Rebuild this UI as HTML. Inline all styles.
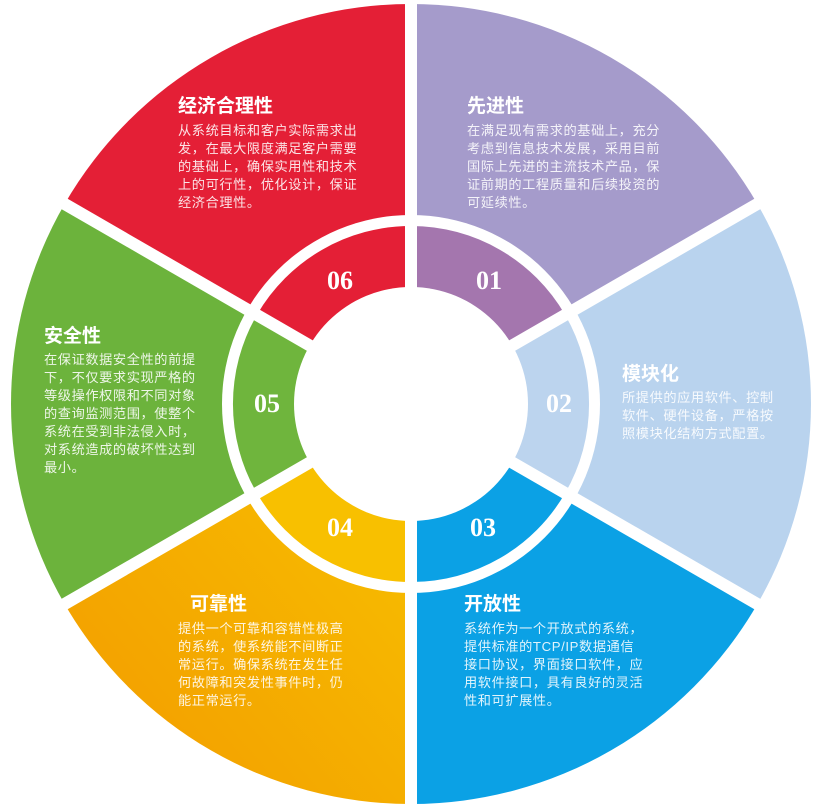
<!DOCTYPE html>
<html><head><meta charset="utf-8"><style>
html,body{margin:0;padding:0;background:#fff;}
svg{display:block;}
.t{font-family:"Liberation Sans","Noto Sans CJK SC",sans-serif;font-weight:bold;font-size:19px;fill:#fff;}
.b{font-family:"Liberation Sans","Noto Sans CJK SC",sans-serif;font-size:13.2px;fill:#fff;fill-opacity:0.88;letter-spacing:0.6px;}
.n{font-family:"Liberation Serif","DejaVu Serif",serif;font-weight:bold;font-size:26px;fill:#fff;text-anchor:middle;}
</style></head><body>
<svg width="823" height="808" viewBox="0 0 823 808" xmlns="http://www.w3.org/2000/svg">
<defs>
<linearGradient id="yg" x1="0" y1="1" x2="1" y2="0"><stop offset="0" stop-color="#f29a00"/><stop offset="1" stop-color="#f8c200"/></linearGradient>
</defs>
<g transform="translate(411,404)">
<!-- outer sectors r=400; angles SVG coords (y down) -->
<path d="M0,0 L0,-400 A400,400 0 0 1 346.4,-200 Z" fill="#a59bcb"/>
<path d="M0,0 L346.4,-200 A400,400 0 0 1 346.4,200 Z" fill="#b9d3ee"/>
<path d="M0,0 L346.4,200 A400,400 0 0 1 0,400 Z" fill="#0ba1e5"/>
<path d="M0,0 L0,400 A400,400 0 0 1 -346.4,200 Z" fill="url(#yg)"/>
<path d="M0,0 L-346.4,200 A400,400 0 0 1 -346.4,-200 Z" fill="#6cb33c"/>
<path d="M0,0 L-346.4,-200 A400,400 0 0 1 0,-400 Z" fill="#e41f36"/>
<circle r="189" fill="#fff"/>
<path d="M0,0 L0,-178 A178,178 0 0 1 154.2,-89 Z" fill="#a476ae"/>
<path d="M0,0 L154.2,-89 A178,178 0 0 1 154.2,89 Z" fill="#bcd4ee"/>
<path d="M0,0 L154.2,89 A178,178 0 0 1 0,178 Z" fill="#0ba1e5"/>
<path d="M0,0 L0,178 A178,178 0 0 1 -154.2,89 Z" fill="#f8c000"/>
<path d="M0,0 L-154.2,89 A178,178 0 0 1 -154.2,-89 Z" fill="#6fb53d"/>
<path d="M0,0 L-154.2,-89 A178,178 0 0 1 0,-178 Z" fill="#e41f36"/>
<circle r="117" fill="#fff"/>
<g stroke="#fff" stroke-width="12">
<line x1="0" y1="0" x2="0" y2="-410"/>
<line x1="0" y1="0" x2="0" y2="410"/>
<line x1="0" y1="0" x2="355" y2="-205"/>
<line x1="0" y1="0" x2="355" y2="205"/>
<line x1="0" y1="0" x2="-355" y2="-205"/>
<line x1="0" y1="0" x2="-355" y2="205"/>
</g>
</g>
<text class="n" x="489" y="289">01</text>
<text class="n" x="559" y="412">02</text>
<text class="n" x="483" y="536">03</text>
<text class="n" x="340" y="536">04</text>
<text class="n" x="267" y="412">05</text>
<text class="n" x="340" y="289">06</text>

<text class="t" x="467" y="112">先进性</text>
<text class="b" x="467" y="135">在满足现有需求的基础上，充分</text>
<text class="b" x="467" y="153">考虑到信息技术发展，采用目前</text>
<text class="b" x="467" y="171">国际上先进的主流技术产品，保</text>
<text class="b" x="467" y="189">证前期的工程质量和后续投资的</text>
<text class="b" x="467" y="207">可延续性。</text>

<text class="t" x="178" y="112">经济合理性</text>
<text class="b" x="178" y="135">从系统目标和客户实际需求出</text>
<text class="b" x="178" y="153">发，在最大限度满足客户需要</text>
<text class="b" x="178" y="171">的基础上，确保实用性和技术</text>
<text class="b" x="178" y="189">上的可行性，优化设计，保证</text>
<text class="b" x="178" y="207">经济合理性。</text>

<text class="t" x="622" y="380">模块化</text>
<text class="b" x="622" y="402">所提供的应用软件、控制</text>
<text class="b" x="622" y="420">软件、硬件设备，严格按</text>
<text class="b" x="622" y="438">照模块化结构方式配置。</text>

<text class="t" x="464" y="610">开放性</text>
<text class="b" x="464" y="633">系统作为一个开放式的系统，</text>
<text class="b" x="464" y="651">提供标准的TCP/IP数据通信</text>
<text class="b" x="464" y="669">接口协议，界面接口软件，应</text>
<text class="b" x="464" y="687">用软件接口，具有良好的灵活</text>
<text class="b" x="464" y="705">性和可扩展性。</text>

<text class="t" x="190" y="610">可靠性</text>
<text class="b" x="178" y="633">提供一个可靠和容错性极高</text>
<text class="b" x="178" y="651">的系统，使系统能不间断正</text>
<text class="b" x="178" y="669">常运行。确保系统在发生任</text>
<text class="b" x="178" y="687">何故障和突发性事件时，仍</text>
<text class="b" x="178" y="705">能正常运行。</text>

<text class="t" x="44" y="342">安全性</text>
<text class="b" x="44" y="364">在保证数据安全性的前提</text>
<text class="b" x="44" y="382">下，不仅要求实现严格的</text>
<text class="b" x="44" y="400">等级操作权限和不同对象</text>
<text class="b" x="44" y="418">的查询监测范围，使整个</text>
<text class="b" x="44" y="436">系统在受到非法侵入时，</text>
<text class="b" x="44" y="454">对系统造成的破坏性达到</text>
<text class="b" x="44" y="472">最小。</text>
</svg>
</body></html>
